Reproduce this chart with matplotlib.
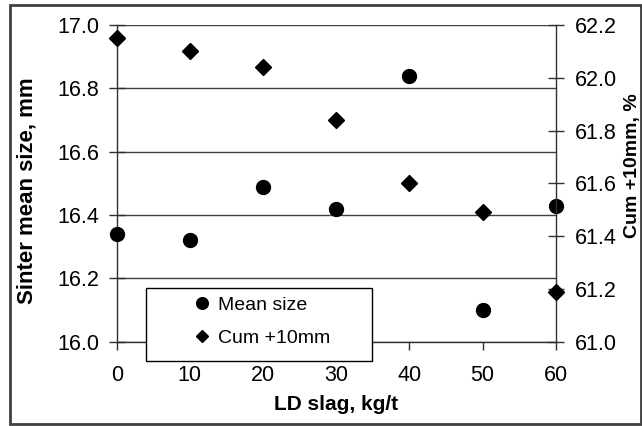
import matplotlib
matplotlib.use("Agg")
import matplotlib.pyplot as plt
from matplotlib.patches import Rectangle
from matplotlib.lines import Line2D

plt.rcParams['font.family'] = ['Liberation Sans', 'DejaVu Sans']

ld_slag = [0, 10, 20, 30, 40, 50, 60]
mean_size = [16.34, 16.32, 16.49, 16.42, 16.84, 16.10, 16.43]
cum_10mm = [62.15, 62.10, 62.04, 61.84, 61.60, 61.49, 61.19]

x_ticks = [0, 10, 20, 30, 40, 50, 60]
left_ticks = [16.0, 16.2, 16.4, 16.6, 16.8, 17.0]
right_ticks = [61.0, 61.2, 61.4, 61.6, 61.8, 62.0, 62.2]

W, H = 642, 426
fig = plt.figure(figsize=(W / 100, H / 100), dpi=100)
fig.patch.set_facecolor('white')

ax = fig.add_axes([116.7 / W, 1 - 341.7 / H, (555.7 - 116.7) / W, (341.7 - 25) / H])
ax2 = ax.twinx()

spine_c = '#303030'
grid_c = '#404040'

ax.set_xlim(0, 60)
ax.set_ylim(16.0, 17.0)
ax2.set_ylim(61.0, 62.2)

for a in (ax, ax2):
    for s in a.spines.values():
        s.set_visible(False)
ax.spines['left'].set_visible(True)
ax.spines['bottom'].set_visible(True)
ax2.spines['right'].set_visible(True)
for s in (ax.spines['left'], ax.spines['bottom'], ax2.spines['right']):
    s.set_color(spine_c)
    s.set_linewidth(1.0)

ax.set_xticks(x_ticks)
ax.set_xticklabels([str(v) for v in x_ticks])
ax.set_yticks(left_ticks)
ax.set_yticklabels([f"{v:.1f}" for v in left_ticks])
ax2.set_yticks(right_ticks)
ax2.set_yticklabels([f"{v:.1f}" for v in right_ticks])

ax.tick_params(axis='x', direction='out', length=6, width=1, color=spine_c,
               labelsize=15.5, pad=11)
ax.tick_params(axis='y', direction='inout', length=11, width=1, color=spine_c,
               labelsize=15.5, pad=7)
ax2.tick_params(axis='y', direction='inout', length=11, width=1, color=spine_c,
                labelsize=15.5, pad=8)

ax.grid(axis='y', color=grid_c, linewidth=1.0)
ax.set_axisbelow(True)

ax.plot(ld_slag, mean_size, linestyle='none', marker='o', markersize=10,
        color='black', clip_on=False, zorder=5)
ax2.plot(ld_slag, cum_10mm, linestyle='none', marker='D', markersize=8.3,
         color='black', clip_on=False, zorder=5)

ax.set_xlabel('LD slag, kg/t', fontsize=15, fontweight='bold', labelpad=6)
fig.text(27 / W, 1 - 191 / H, 'Sinter mean size, mm', rotation=90,
         fontsize=16, fontweight='bold', ha='center', va='center')
fig.text(632 / W, 1 - 166 / H, 'Cum +10mm, %', rotation=90,
         fontsize=14, fontweight='bold', ha='center', va='center')

# legend box drawn over the axes
fig.patches.append(Rectangle((146 / W, 1 - 361 / H), 226 / W, 73 / H,
                             transform=fig.transFigure, facecolor='white',
                             edgecolor='black', linewidth=1.0, zorder=5))
handles = [
    Line2D([], [], linestyle='none', marker='o', markersize=8.4, color='black'),
    Line2D([], [], linestyle='none', marker='D', markersize=6.2, color='black'),
]
leg = fig.legend(handles, ['Mean size', 'Cum +10mm'], loc='center left',
                 bbox_to_anchor=(192.9 / W, 1 - 321.5 / H), frameon=False,
                 fontsize=14, handlelength=0.95, handletextpad=0.35,
                 labelspacing=0.8, borderpad=0, borderaxespad=0)
leg.set_zorder(6)

# outer chart border
fig.patches.append(Rectangle((10 / W, 1 - 423.5 / H), 630.5 / W, 418.5 / H,
                             transform=fig.transFigure, facecolor='none',
                             edgecolor='#404040', linewidth=2.0, zorder=7))

fig.savefig('out.png', dpi=100)
